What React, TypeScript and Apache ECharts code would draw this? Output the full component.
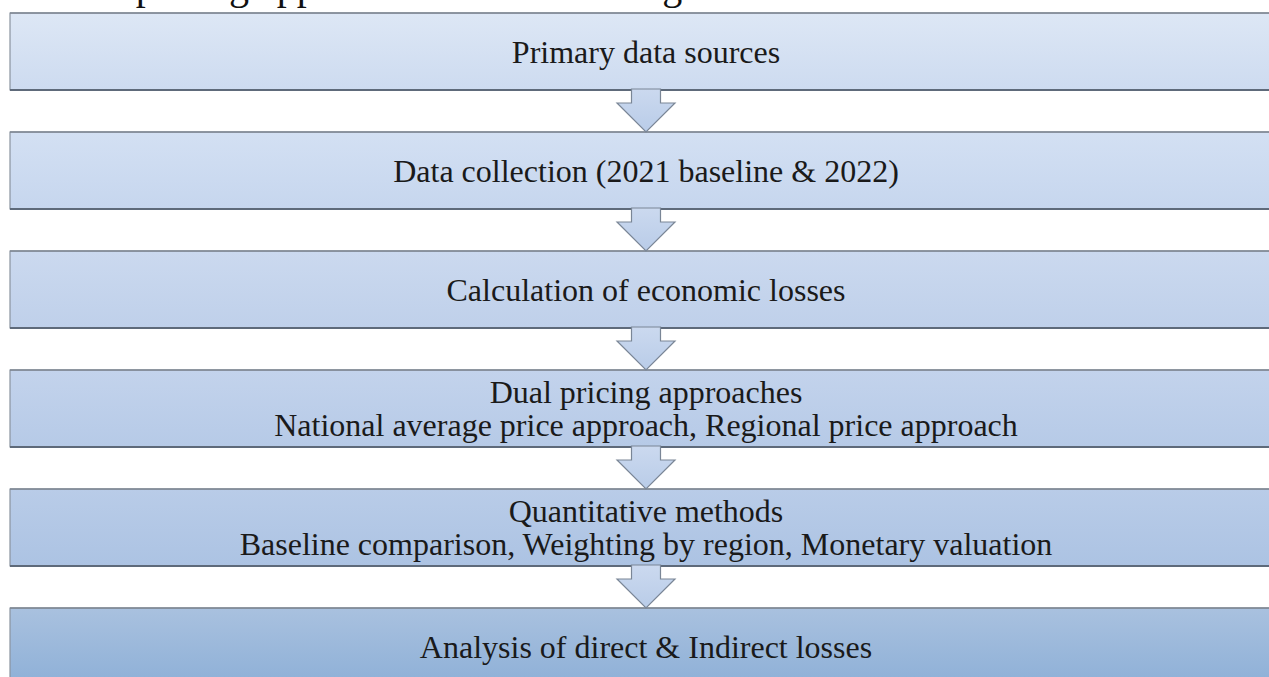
import React, { useEffect, useRef } from "react";
import * as echarts from "echarts";

const stepLines: string[][] = [
  ["Primary data sources"],
  ["Data collection (2021 baseline & 2022)"],
  ["Calculation of economic losses"],
  ["Dual pricing approaches", "National average price approach, Regional price approach"],
  ["Quantitative methods", "Baseline comparison, Weighting by region, Monetary valuation"],
  ["Analysis of direct & Indirect losses"],
];
const topColors = ["#dde7f5", "#d3e0f3", "#cbd9ef", "#c3d3ec", "#b9cce8", "#a9c1df"];
const bottomColors = ["#cddbf0", "#c6d6ee", "#bfd0ea", "#b6cae7", "#acc3e3", "#8eb0d7"];
const captionText = "Dual pricing approach in the estimating of losses";

export default function App() {
  const ref = useRef<HTMLDivElement>(null);
  useEffect(() => {
    if (!ref.current) return;
    const chart = echarts.init(ref.current, undefined, { renderer: "svg" });
    const left = 10;
    const right = 1290;
    const top0 = 13;
    const pitch = 119;
    const boxH = 77;
    const cx = 646;
    const font = "'Liberation Serif', 'Times New Roman', serif";
    const elements: any[] = [];
    elements.push({
      type: "text",
      x: 48,
      y: 5,
      style: {
        text: captionText,
        font: `40px ${font}`,
        fill: "#111",
        verticalAlign: "bottom",
      },
    });
    stepLines.forEach((lines, i) => {
      const y = top0 + i * pitch;
      elements.push({
        type: "rect",
        shape: { x: left, y, width: right - left, height: boxH },
        style: {
          fill: new echarts.graphic.LinearGradient(0, 0, 0, 1, [
            { offset: 0, color: topColors[i] },
            { offset: 1, color: bottomColors[i] },
          ]),
          stroke: "#8a939f",
          lineWidth: 1.2,
        },
        z: 1,
      });
      elements.push({
        type: "line",
        shape: { x1: left, y1: y + boxH, x2: right, y2: y + boxH },
        style: { stroke: "#5e6a7a", lineWidth: 2 },
        z: 2,
      });
      elements.push({
        type: "line",
        shape: { x1: left, y1: y, x2: right, y2: y },
        style: { stroke: "#7d8590", lineWidth: 1.5 },
        z: 2,
      });
      const lh = 33;
      const startY = y + boxH / 2 - ((lines.length - 1) * lh) / 2;
      lines.forEach((t, j) => {
        elements.push({
          type: "text",
          x: cx,
          y: startY + j * lh,
          style: {
            text: t,
            font: `32px ${font}`,
            fill: "#1a1a1a",
            align: "center",
            verticalAlign: "middle",
          },
          z: 5,
        });
      });
      if (i < stepLines.length - 1) {
        const yb = y + boxH;
        const yt = top0 + (i + 1) * pitch;
        const headY = yb + 13;
        elements.push({
          type: "polygon",
          shape: {
            points: [
              [cx - 14.5, yb - 1],
              [cx + 14.5, yb - 1],
              [cx + 14.5, headY],
              [cx + 29, headY],
              [cx, yt],
              [cx - 29, headY],
              [cx - 14.5, headY],
            ],
          },
          style: {
            fill: new echarts.graphic.LinearGradient(0, 0, 0, 1, [
              { offset: 0, color: "#cbd9ef" },
              { offset: 1, color: "#b9cce8" },
            ]),
            stroke: "#7a8696",
            lineWidth: 1.2,
          },
          z: 3,
        });
      }
    });
    chart.setOption({ animation: false, graphic: { elements } });
    return () => chart.dispose();
  }, []);
  return (
    <div
      ref={ref}
      style={{ position: "fixed", left: 0, top: 0, width: 1269, height: 677, background: "#fff" }}
    />
  );
}
